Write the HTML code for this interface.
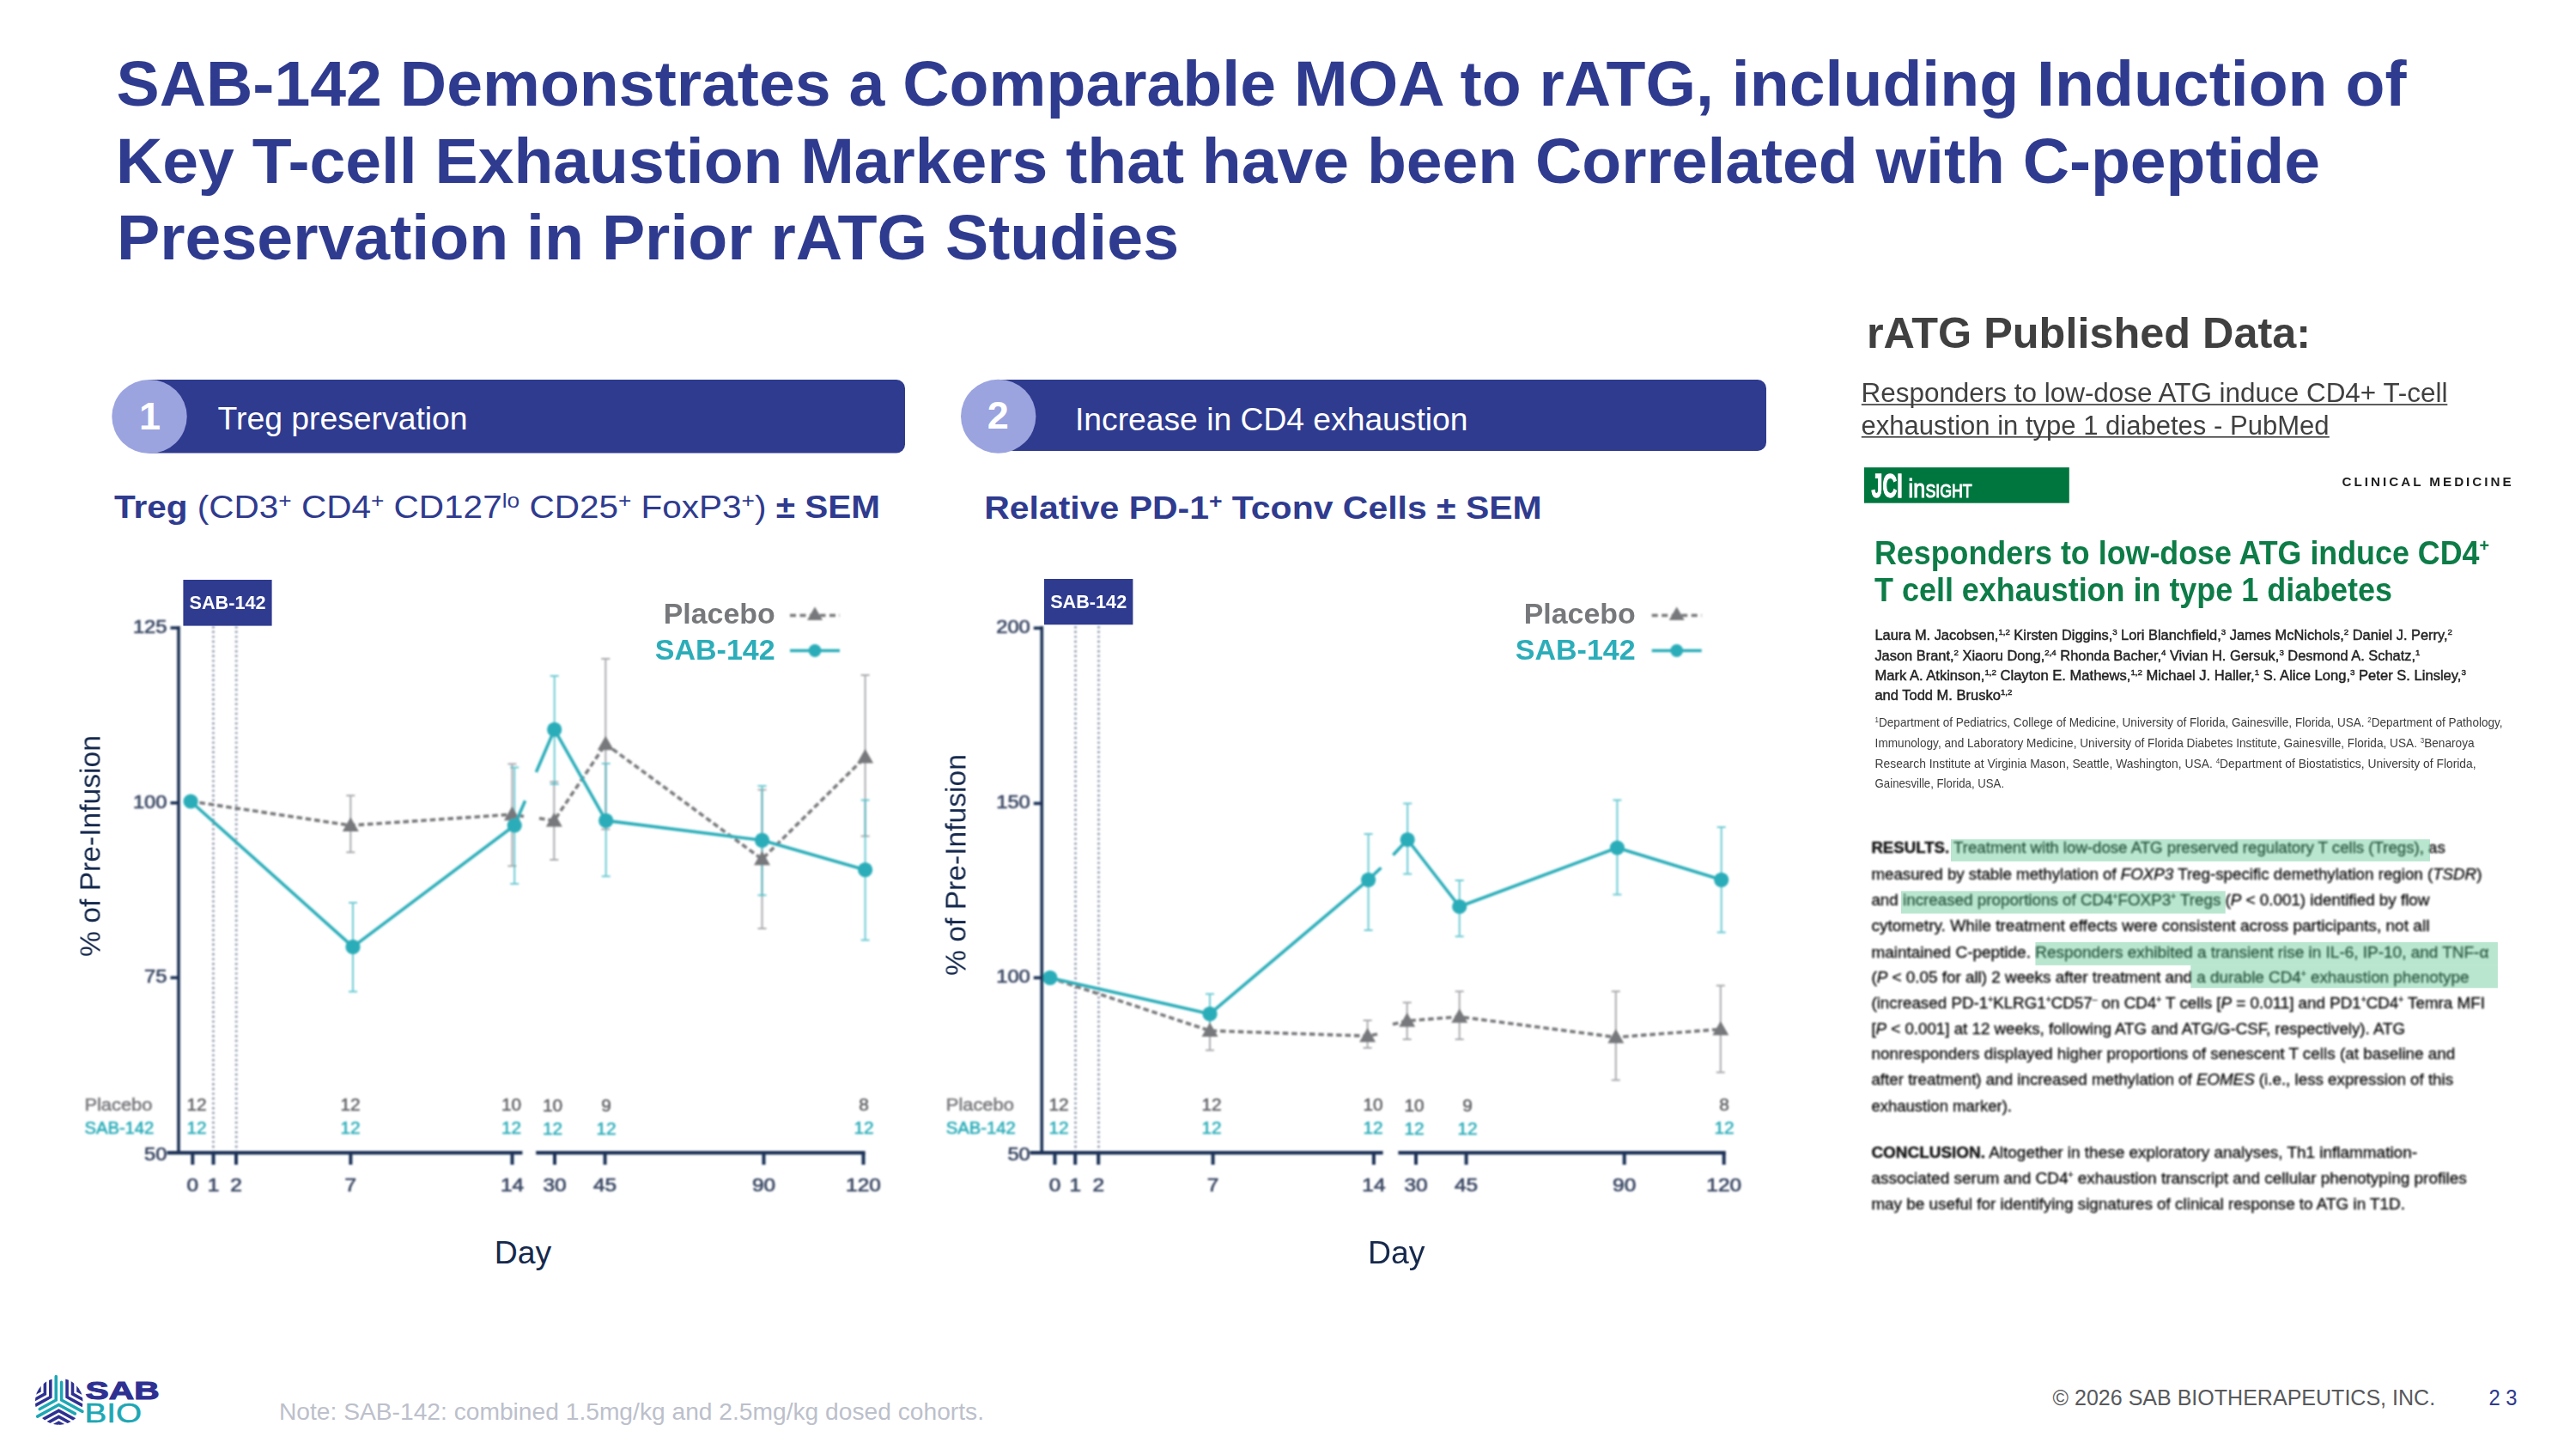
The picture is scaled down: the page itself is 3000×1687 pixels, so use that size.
<!DOCTYPE html>
<html lang="en"><head><meta charset="utf-8"><title>SAB-142 Demonstrates a Comparable MOA to rATG</title>
<style>
html,body{margin:0;padding:0;background:#fff;}
body{width:3000px;height:1687px;overflow:hidden;}
svg{display:block;font-family:"Liberation Sans",Arial,Helvetica,sans-serif;}
</style></head><body>
<svg width="3000" height="1687" viewBox="0 0 3000 1687">
<text x="135.5" y="123.2" font-size="75" fill="#2f3b8f" font-weight="700" textLength="2667" lengthAdjust="spacingAndGlyphs">SAB-142 Demonstrates a Comparable MOA to rATG, including Induction of</text>
<text x="135" y="212.5" font-size="75" fill="#2f3b8f" font-weight="700" textLength="2567" lengthAdjust="spacingAndGlyphs">Key T-cell Exhaustion Markers that have been Correlated with C-peptide</text>
<text x="136" y="301.6" font-size="75" fill="#2f3b8f" font-weight="700" textLength="1237" lengthAdjust="spacingAndGlyphs">Preservation in Prior rATG Studies</text>
<path d="M173 442 H1044 a10 10 0 0 1 10 10 V517.5 a10 10 0 0 1 -10 10 H173 Z" fill="#2f3b8f"/>
<ellipse cx="174" cy="485" rx="43.7" ry="43" fill="#9ba4df"/>
<text x="174.5" y="499.7" font-size="45" fill="#fff" font-weight="700" text-anchor="middle">1</text>
<text x="253.6" y="499.8" font-size="37" fill="#fff" textLength="291" lengthAdjust="spacingAndGlyphs">Treg preservation</text>
<path d="M1162 442 H2047 a10 10 0 0 1 10 10 V515 a10 10 0 0 1 -10 10 H1162 Z" fill="#2f3b8f"/>
<ellipse cx="1162.7" cy="484.7" rx="43.7" ry="43" fill="#9ba4df"/>
<text x="1162.3" y="499.2" font-size="45" fill="#fff" font-weight="700" text-anchor="middle">2</text>
<text x="1252" y="500.6" font-size="37" fill="#fff" textLength="457.5" lengthAdjust="spacingAndGlyphs">Increase in CD4 exhaustion</text>
<text x="133" y="603.2" font-size="37" fill="#2f3b8f" textLength="892" lengthAdjust="spacingAndGlyphs"><tspan font-weight="700">Treg</tspan> (CD3<tspan dy="-12" font-size="24">+</tspan><tspan dy="12"> CD4</tspan><tspan dy="-12" font-size="24">+</tspan><tspan dy="12"> CD127</tspan><tspan dy="-12" font-size="24">lo</tspan><tspan dy="12"> CD25</tspan><tspan dy="-12" font-size="24">+</tspan><tspan dy="12">  FoxP3</tspan><tspan dy="-12" font-size="24">+</tspan><tspan dy="12">) </tspan><tspan font-weight="700">± SEM</tspan></text>
<text x="1146.2" y="603.8" font-size="37" fill="#2f3b8f" font-weight="700" textLength="649.5" lengthAdjust="spacingAndGlyphs">Relative PD-1<tspan dy="-12" font-size="24">+</tspan><tspan dy="12"> Tconv Cells ± SEM</tspan></text>
<defs><filter id="soft" filterUnits="userSpaceOnUse" x="0" y="0" width="3000" height="1687"><feGaussianBlur stdDeviation="1"/></filter><filter id="soft2" filterUnits="userSpaceOnUse" x="0" y="0" width="3000" height="1687"><feGaussianBlur stdDeviation="0.6"/></filter></defs>
<g filter="url(#soft)">
<path d="M248.4 729V1340" stroke="#7f88a0" stroke-width="2.8" stroke-dasharray="2.4 3.2" fill="none" opacity="0.85"/>
<path d="M275.2 729V1340" stroke="#7f88a0" stroke-width="2.8" stroke-dasharray="2.4 3.2" fill="none" opacity="0.85"/>
<path d="M408.3 926.2V992.3M403.3 926.2h10M403.3 992.3h10" stroke="#8f9094" stroke-width="2" fill="none" opacity="0.75"/>
<path d="M596.4 889.4V1008.3M591.4 889.4h10M591.4 1008.3h10" stroke="#8f9094" stroke-width="2" fill="none" opacity="0.75"/>
<path d="M645.3 910.2V1001M640.3 910.2h10M640.3 1001h10" stroke="#8f9094" stroke-width="2" fill="none" opacity="0.75"/>
<path d="M705.3 766.9V965.4M700.3 766.9h10M700.3 965.4h10" stroke="#8f9094" stroke-width="2" fill="none" opacity="0.75"/>
<path d="M887.5 919.4V1081.1M882.5 919.4h10M882.5 1081.1h10" stroke="#8f9094" stroke-width="2" fill="none" opacity="0.75"/>
<path d="M1007.6 786.1V973.4M1002.6 786.1h10M1002.6 973.4h10" stroke="#8f9094" stroke-width="2" fill="none" opacity="0.75"/>
<path d="M411 1051.1V1154.4M406 1051.1h10M406 1154.4h10" stroke="#3fb9c4" stroke-width="2" fill="none" opacity="0.75"/>
<path d="M599.2 893.4V1029.1M594.2 893.4h10M594.2 1029.1h10" stroke="#3fb9c4" stroke-width="2" fill="none" opacity="0.75"/>
<path d="M645.7 786.9V913M640.7 786.9h10M640.7 913h10" stroke="#3fb9c4" stroke-width="2" fill="none" opacity="0.75"/>
<path d="M705.7 889V1020.3M700.7 889h10M700.7 1020.3h10" stroke="#3fb9c4" stroke-width="2" fill="none" opacity="0.75"/>
<path d="M887.5 915V1042.3M882.5 915h10M882.5 1042.3h10" stroke="#3fb9c4" stroke-width="2" fill="none" opacity="0.75"/>
<path d="M1007.6 931.4V1094.4M1002.6 931.4h10M1002.6 1094.4h10" stroke="#3fb9c4" stroke-width="2" fill="none" opacity="0.75"/>
<polyline points="222.1,933 408.3,961 596.4,948.2 610,950.5" fill="none" stroke="#77787b" stroke-width="3.6" stroke-dasharray="6.6 3.8"/>
<polyline points="628,952.8 645.3,955.4 705.3,866.2 887.5,1000.3 1007.6,881.4" fill="none" stroke="#77787b" stroke-width="3.6" stroke-dasharray="6.6 3.8"/>
<path d="M408.3 951.5L417.8 968H398.8Z" fill="#77787b"/>
<path d="M596.4 938.7L605.9 955.2H586.9Z" fill="#77787b"/>
<path d="M645.3 945.9L654.8 962.4H635.8Z" fill="#77787b"/>
<path d="M705.3 856.7L714.8 873.2H695.8Z" fill="#77787b"/>
<path d="M887.5 990.8L897.0 1007.3H878.0Z" fill="#77787b"/>
<path d="M1007.6 871.9L1017.1 888.4H998.1Z" fill="#77787b"/>
<polyline points="222.1,933 411,1102.4 599.2,961 611.6,932.2" fill="none" stroke="#2cadb9" stroke-width="3.6" stroke-linejoin="round"/>
<polyline points="624.4,899 645.7,849.4 705.7,955.4 887.5,978.3 1007.6,1012.7" fill="none" stroke="#2cadb9" stroke-width="3.6" stroke-linejoin="round"/>
<circle cx="222.1" cy="933" r="8.6" fill="#2cadb9"/>
<circle cx="411" cy="1102.4" r="8.6" fill="#2cadb9"/>
<circle cx="599.2" cy="961" r="8.6" fill="#2cadb9"/>
<circle cx="645.7" cy="849.4" r="8.6" fill="#2cadb9"/>
<circle cx="705.7" cy="955.4" r="8.6" fill="#2cadb9"/>
<circle cx="887.5" cy="978.3" r="8.6" fill="#2cadb9"/>
<circle cx="1007.6" cy="1012.7" r="8.6" fill="#2cadb9"/>
<path d="M208 729V1343.5" stroke="#1d3057" stroke-width="3.6" fill="none"/>
<path d="M194.5 1342.1H608.4M624.2 1342.1H1007.5" stroke="#1d3057" stroke-width="4.4" fill="none"/>
<path d="M198.5 731H208" stroke="#1d3057" stroke-width="3.6"/>
<text x="194.5" y="737" font-size="22.3" fill="#3a4763" text-anchor="end" textLength="39.6" lengthAdjust="spacingAndGlyphs" stroke="#3a4763" stroke-width="0.7">125</text>
<path d="M198.5 934.8H208" stroke="#1d3057" stroke-width="3.6"/>
<text x="194.5" y="940.8" font-size="22.3" fill="#3a4763" text-anchor="end" textLength="39.6" lengthAdjust="spacingAndGlyphs" stroke="#3a4763" stroke-width="0.7">100</text>
<path d="M198.5 1138.3H208" stroke="#1d3057" stroke-width="3.6"/>
<text x="194.5" y="1144.3" font-size="22.3" fill="#3a4763" text-anchor="end" textLength="26.4" lengthAdjust="spacingAndGlyphs" stroke="#3a4763" stroke-width="0.7">75</text>
<text x="194.5" y="1350.6" font-size="22.3" fill="#3a4763" text-anchor="end" textLength="26.4" lengthAdjust="spacingAndGlyphs" stroke="#3a4763" stroke-width="0.7">50</text>
<path d="M224.3 1341.5V1356" stroke="#1d3057" stroke-width="4"/>
<text x="224.3" y="1386.5" font-size="22.2" fill="#3a4763" text-anchor="middle" textLength="13.6" lengthAdjust="spacingAndGlyphs" stroke="#3a4763" stroke-width="0.7">0</text>
<path d="M248.5 1341.5V1356" stroke="#1d3057" stroke-width="4"/>
<text x="248.5" y="1386.5" font-size="22.2" fill="#3a4763" text-anchor="middle" textLength="13.6" lengthAdjust="spacingAndGlyphs" stroke="#3a4763" stroke-width="0.7">1</text>
<path d="M275 1341.5V1356" stroke="#1d3057" stroke-width="4"/>
<text x="275" y="1386.5" font-size="22.2" fill="#3a4763" text-anchor="middle" textLength="13.6" lengthAdjust="spacingAndGlyphs" stroke="#3a4763" stroke-width="0.7">2</text>
<path d="M408.4 1341.5V1356" stroke="#1d3057" stroke-width="4"/>
<text x="408.4" y="1386.5" font-size="22.2" fill="#3a4763" text-anchor="middle" textLength="13.6" lengthAdjust="spacingAndGlyphs" stroke="#3a4763" stroke-width="0.7">7</text>
<path d="M596.5 1341.5V1356" stroke="#1d3057" stroke-width="4"/>
<text x="596.5" y="1386.5" font-size="22.2" fill="#3a4763" text-anchor="middle" textLength="27.2" lengthAdjust="spacingAndGlyphs" stroke="#3a4763" stroke-width="0.7">14</text>
<path d="M646 1341.5V1356" stroke="#1d3057" stroke-width="4"/>
<text x="646" y="1386.5" font-size="22.2" fill="#3a4763" text-anchor="middle" textLength="27.2" lengthAdjust="spacingAndGlyphs" stroke="#3a4763" stroke-width="0.7">30</text>
<path d="M704.6 1341.5V1356" stroke="#1d3057" stroke-width="4"/>
<text x="704.6" y="1386.5" font-size="22.2" fill="#3a4763" text-anchor="middle" textLength="27.2" lengthAdjust="spacingAndGlyphs" stroke="#3a4763" stroke-width="0.7">45</text>
<path d="M889.5 1341.5V1356" stroke="#1d3057" stroke-width="4"/>
<text x="889.5" y="1386.5" font-size="22.2" fill="#3a4763" text-anchor="middle" textLength="27.2" lengthAdjust="spacingAndGlyphs" stroke="#3a4763" stroke-width="0.7">90</text>
<path d="M1005.5 1341.5V1356" stroke="#1d3057" stroke-width="4"/>
<text x="1005.5" y="1386.5" font-size="22.2" fill="#3a4763" text-anchor="middle" textLength="40.8" lengthAdjust="spacingAndGlyphs" stroke="#3a4763" stroke-width="0.7">120</text>
<text x="98.4" y="1292.5" font-size="19.5" fill="#7b7c80" textLength="79" lengthAdjust="spacingAndGlyphs" stroke="#7b7c80" stroke-width="0.6">Placebo</text>
<text x="98.4" y="1319.8" font-size="19.5" fill="#2cadb9" textLength="81" lengthAdjust="spacingAndGlyphs" stroke="#2cadb9" stroke-width="0.6">SAB-142</text>
<text x="229" y="1292.5" font-size="19.5" fill="#626367" text-anchor="middle" textLength="23.2" lengthAdjust="spacingAndGlyphs" stroke="#626367" stroke-width="0.5">12</text>
<text x="229" y="1319.8" font-size="19.5" fill="#2cadb9" text-anchor="middle" textLength="23.2" lengthAdjust="spacingAndGlyphs" stroke="#2cadb9" stroke-width="0.5">12</text>
<text x="408" y="1292.5" font-size="19.5" fill="#626367" text-anchor="middle" textLength="23.2" lengthAdjust="spacingAndGlyphs" stroke="#626367" stroke-width="0.5">12</text>
<text x="408" y="1319.8" font-size="19.5" fill="#2cadb9" text-anchor="middle" textLength="23.2" lengthAdjust="spacingAndGlyphs" stroke="#2cadb9" stroke-width="0.5">12</text>
<text x="595.5" y="1292.5" font-size="19.5" fill="#626367" text-anchor="middle" textLength="23.2" lengthAdjust="spacingAndGlyphs" stroke="#626367" stroke-width="0.5">10</text>
<text x="595.5" y="1319.8" font-size="19.5" fill="#2cadb9" text-anchor="middle" textLength="23.2" lengthAdjust="spacingAndGlyphs" stroke="#2cadb9" stroke-width="0.5">12</text>
<text x="643.5" y="1293.5" font-size="19.5" fill="#626367" text-anchor="middle" textLength="23.2" lengthAdjust="spacingAndGlyphs" stroke="#626367" stroke-width="0.5">10</text>
<text x="643.5" y="1320.8" font-size="19.5" fill="#2cadb9" text-anchor="middle" textLength="23.2" lengthAdjust="spacingAndGlyphs" stroke="#2cadb9" stroke-width="0.5">12</text>
<text x="706" y="1293.5" font-size="19.5" fill="#626367" text-anchor="middle" textLength="11.6" lengthAdjust="spacingAndGlyphs" stroke="#626367" stroke-width="0.5">9</text>
<text x="706" y="1320.8" font-size="19.5" fill="#2cadb9" text-anchor="middle" textLength="23.2" lengthAdjust="spacingAndGlyphs" stroke="#2cadb9" stroke-width="0.5">12</text>
<text x="1006" y="1292.5" font-size="19.5" fill="#626367" text-anchor="middle" textLength="11.6" lengthAdjust="spacingAndGlyphs" stroke="#626367" stroke-width="0.5">8</text>
<text x="1006" y="1319.8" font-size="19.5" fill="#2cadb9" text-anchor="middle" textLength="23.2" lengthAdjust="spacingAndGlyphs" stroke="#2cadb9" stroke-width="0.5">12</text>
</g>
<rect x="213.4" y="675" width="103.2" height="53.6" fill="#2f3b8f" />
<text x="265.0" y="709.4" font-size="21.5" fill="#fff" font-weight="700" text-anchor="middle" textLength="89" lengthAdjust="spacingAndGlyphs">SAB-142</text>
<text x="902.7" y="725.8" font-size="33.6" fill="#77787b" font-weight="700" text-anchor="end" textLength="130" lengthAdjust="spacingAndGlyphs">Placebo</text>
<text x="902.7" y="768.2" font-size="33.6" fill="#2cadb9" font-weight="700" text-anchor="end" textLength="140" lengthAdjust="spacingAndGlyphs">SAB-142</text>
<g filter="url(#soft)">
<path d="M920 716.5H978" stroke="#77787b" stroke-width="3.4" stroke-dasharray="7 4.5"/>
<path d="M949 706.5L958 722H940Z" fill="#77787b"/>
<path d="M920 757.5H978" stroke="#2cadb9" stroke-width="3.6"/>
<circle cx="949" cy="757.5" r="7.4" fill="#2cadb9"/>
</g>
<text x="0" y="0" font-size="33.6" fill="#16294d" text-anchor="middle" textLength="258" lengthAdjust="spacingAndGlyphs" transform="translate(116.5 985) rotate(-90)">% of Pre-Infusion</text>
<text x="575.7" y="1471" font-size="36.3" fill="#16294d" textLength="66.5" lengthAdjust="spacingAndGlyphs">Day</text>
<g filter="url(#soft)">
<path d="M1252.5 729V1340" stroke="#7f88a0" stroke-width="2.8" stroke-dasharray="2.4 3.2" fill="none" opacity="0.85"/>
<path d="M1279.5 729V1340" stroke="#7f88a0" stroke-width="2.8" stroke-dasharray="2.4 3.2" fill="none" opacity="0.85"/>
<path d="M1409 1177V1222.7M1404 1177h10M1404 1222.7h10" stroke="#8f9094" stroke-width="2" fill="none" opacity="0.75"/>
<path d="M1592.6 1187.9V1220M1587.6 1187.9h10M1587.6 1220h10" stroke="#8f9094" stroke-width="2" fill="none" opacity="0.75"/>
<path d="M1638.7 1167.3V1210M1633.7 1167.3h10M1633.7 1210h10" stroke="#8f9094" stroke-width="2" fill="none" opacity="0.75"/>
<path d="M1699.7 1154.2V1210M1694.7 1154.2h10M1694.7 1210h10" stroke="#8f9094" stroke-width="2" fill="none" opacity="0.75"/>
<path d="M1881.8 1154.2V1257.6M1876.8 1154.2h10M1876.8 1257.6h10" stroke="#8f9094" stroke-width="2" fill="none" opacity="0.75"/>
<path d="M2003.8 1147.5V1248.5M1998.8 1147.5h10M1998.8 1248.5h10" stroke="#8f9094" stroke-width="2" fill="none" opacity="0.75"/>
<path d="M1409 1157.2V1203M1404 1157.2h10M1404 1203h10" stroke="#3fb9c4" stroke-width="2" fill="none" opacity="0.75"/>
<path d="M1593.6 971V1083.1M1588.6 971h10M1588.6 1083.1h10" stroke="#3fb9c4" stroke-width="2" fill="none" opacity="0.75"/>
<path d="M1639.2 935.4V1017.5M1634.2 935.4h10M1634.2 1017.5h10" stroke="#3fb9c4" stroke-width="2" fill="none" opacity="0.75"/>
<path d="M1699.7 1025.1V1090.3M1694.7 1025.1h10M1694.7 1090.3h10" stroke="#3fb9c4" stroke-width="2" fill="none" opacity="0.75"/>
<path d="M1883.4 931.4V1041.5M1878.4 931.4h10M1878.4 1041.5h10" stroke="#3fb9c4" stroke-width="2" fill="none" opacity="0.75"/>
<path d="M2004.7 963V1085.5M1999.7 963h10M1999.7 1085.5h10" stroke="#3fb9c4" stroke-width="2" fill="none" opacity="0.75"/>
<polyline points="1222.9,1138.4 1409,1200 1592.6,1206.2 1604,1204" fill="none" stroke="#77787b" stroke-width="3.6" stroke-dasharray="6.6 3.8"/>
<polyline points="1622,1192.5 1638.7,1188.5 1699.7,1183.8 1881.8,1207.6 2003.8,1198.3" fill="none" stroke="#77787b" stroke-width="3.6" stroke-dasharray="6.6 3.8"/>
<path d="M1409 1190.5L1418.5 1207H1399.5Z" fill="#77787b"/>
<path d="M1592.6 1196.7L1602.1 1213.2H1583.1Z" fill="#77787b"/>
<path d="M1638.7 1179.0L1648.2 1195.5H1629.2Z" fill="#77787b"/>
<path d="M1699.7 1174.3L1709.2 1190.8H1690.2Z" fill="#77787b"/>
<path d="M1881.8 1198.1L1891.3 1214.6H1872.3Z" fill="#77787b"/>
<path d="M2003.8 1188.8L2013.3 1205.3H1994.3Z" fill="#77787b"/>
<polyline points="1222.9,1138.4 1409,1180.4 1593.6,1024.3 1608.4,1010.3" fill="none" stroke="#2cadb9" stroke-width="3.6" stroke-linejoin="round"/>
<polyline points="1622.4,995.5 1639.2,977.5 1699.7,1055.5 1883.4,987 2004.7,1024.3" fill="none" stroke="#2cadb9" stroke-width="3.6" stroke-linejoin="round"/>
<circle cx="1222.9" cy="1138.4" r="8.6" fill="#2cadb9"/>
<circle cx="1409" cy="1180.4" r="8.6" fill="#2cadb9"/>
<circle cx="1593.6" cy="1024.3" r="8.6" fill="#2cadb9"/>
<circle cx="1639.2" cy="977.5" r="8.6" fill="#2cadb9"/>
<circle cx="1699.7" cy="1055.5" r="8.6" fill="#2cadb9"/>
<circle cx="1883.4" cy="987" r="8.6" fill="#2cadb9"/>
<circle cx="2004.7" cy="1024.3" r="8.6" fill="#2cadb9"/>
<path d="M1213.3 729V1343.5" stroke="#1d3057" stroke-width="3.6" fill="none"/>
<path d="M1199.5 1342.1H1610.6M1628.4 1342.1H2009.7" stroke="#1d3057" stroke-width="4.4" fill="none"/>
<path d="M1203.8 731.3H1213.3" stroke="#1d3057" stroke-width="3.6"/>
<text x="1199.8" y="737.3" font-size="22.3" fill="#3a4763" text-anchor="end" textLength="39.6" lengthAdjust="spacingAndGlyphs" stroke="#3a4763" stroke-width="0.7">200</text>
<path d="M1203.8 935.4H1213.3" stroke="#1d3057" stroke-width="3.6"/>
<text x="1199.8" y="941.4" font-size="22.3" fill="#3a4763" text-anchor="end" textLength="39.6" lengthAdjust="spacingAndGlyphs" stroke="#3a4763" stroke-width="0.7">150</text>
<path d="M1203.8 1138.4H1213.3" stroke="#1d3057" stroke-width="3.6"/>
<text x="1199.8" y="1144.4" font-size="22.3" fill="#3a4763" text-anchor="end" textLength="39.6" lengthAdjust="spacingAndGlyphs" stroke="#3a4763" stroke-width="0.7">100</text>
<text x="1199.8" y="1350.6" font-size="22.3" fill="#3a4763" text-anchor="end" textLength="26.4" lengthAdjust="spacingAndGlyphs" stroke="#3a4763" stroke-width="0.7">50</text>
<path d="M1228.5 1341.5V1356" stroke="#1d3057" stroke-width="4"/>
<text x="1228.5" y="1386.5" font-size="22.2" fill="#3a4763" text-anchor="middle" textLength="13.6" lengthAdjust="spacingAndGlyphs" stroke="#3a4763" stroke-width="0.7">0</text>
<path d="M1252.2 1341.5V1356" stroke="#1d3057" stroke-width="4"/>
<text x="1252.2" y="1386.5" font-size="22.2" fill="#3a4763" text-anchor="middle" textLength="13.6" lengthAdjust="spacingAndGlyphs" stroke="#3a4763" stroke-width="0.7">1</text>
<path d="M1279.2 1341.5V1356" stroke="#1d3057" stroke-width="4"/>
<text x="1279.2" y="1386.5" font-size="22.2" fill="#3a4763" text-anchor="middle" textLength="13.6" lengthAdjust="spacingAndGlyphs" stroke="#3a4763" stroke-width="0.7">2</text>
<path d="M1412.6 1341.5V1356" stroke="#1d3057" stroke-width="4"/>
<text x="1412.6" y="1386.5" font-size="22.2" fill="#3a4763" text-anchor="middle" textLength="13.6" lengthAdjust="spacingAndGlyphs" stroke="#3a4763" stroke-width="0.7">7</text>
<path d="M1599.9 1341.5V1356" stroke="#1d3057" stroke-width="4"/>
<text x="1599.9" y="1386.5" font-size="22.2" fill="#3a4763" text-anchor="middle" textLength="27.2" lengthAdjust="spacingAndGlyphs" stroke="#3a4763" stroke-width="0.7">14</text>
<path d="M1649 1341.5V1356" stroke="#1d3057" stroke-width="4"/>
<text x="1649" y="1386.5" font-size="22.2" fill="#3a4763" text-anchor="middle" textLength="27.2" lengthAdjust="spacingAndGlyphs" stroke="#3a4763" stroke-width="0.7">30</text>
<path d="M1707.6 1341.5V1356" stroke="#1d3057" stroke-width="4"/>
<text x="1707.6" y="1386.5" font-size="22.2" fill="#3a4763" text-anchor="middle" textLength="27.2" lengthAdjust="spacingAndGlyphs" stroke="#3a4763" stroke-width="0.7">45</text>
<path d="M1891.7 1341.5V1356" stroke="#1d3057" stroke-width="4"/>
<text x="1891.7" y="1386.5" font-size="22.2" fill="#3a4763" text-anchor="middle" textLength="27.2" lengthAdjust="spacingAndGlyphs" stroke="#3a4763" stroke-width="0.7">90</text>
<path d="M2007.7 1341.5V1356" stroke="#1d3057" stroke-width="4"/>
<text x="2007.7" y="1386.5" font-size="22.2" fill="#3a4763" text-anchor="middle" textLength="40.8" lengthAdjust="spacingAndGlyphs" stroke="#3a4763" stroke-width="0.7">120</text>
<text x="1101.8" y="1292.5" font-size="19.5" fill="#7b7c80" textLength="79" lengthAdjust="spacingAndGlyphs" stroke="#7b7c80" stroke-width="0.6">Placebo</text>
<text x="1101.8" y="1319.8" font-size="19.5" fill="#2cadb9" textLength="81" lengthAdjust="spacingAndGlyphs" stroke="#2cadb9" stroke-width="0.6">SAB-142</text>
<text x="1233" y="1292.5" font-size="19.5" fill="#626367" text-anchor="middle" textLength="23.2" lengthAdjust="spacingAndGlyphs" stroke="#626367" stroke-width="0.5">12</text>
<text x="1233" y="1319.8" font-size="19.5" fill="#2cadb9" text-anchor="middle" textLength="23.2" lengthAdjust="spacingAndGlyphs" stroke="#2cadb9" stroke-width="0.5">12</text>
<text x="1411" y="1292.5" font-size="19.5" fill="#626367" text-anchor="middle" textLength="23.2" lengthAdjust="spacingAndGlyphs" stroke="#626367" stroke-width="0.5">12</text>
<text x="1411" y="1319.8" font-size="19.5" fill="#2cadb9" text-anchor="middle" textLength="23.2" lengthAdjust="spacingAndGlyphs" stroke="#2cadb9" stroke-width="0.5">12</text>
<text x="1599" y="1292.5" font-size="19.5" fill="#626367" text-anchor="middle" textLength="23.2" lengthAdjust="spacingAndGlyphs" stroke="#626367" stroke-width="0.5">10</text>
<text x="1599" y="1319.8" font-size="19.5" fill="#2cadb9" text-anchor="middle" textLength="23.2" lengthAdjust="spacingAndGlyphs" stroke="#2cadb9" stroke-width="0.5">12</text>
<text x="1647" y="1293.5" font-size="19.5" fill="#626367" text-anchor="middle" textLength="23.2" lengthAdjust="spacingAndGlyphs" stroke="#626367" stroke-width="0.5">10</text>
<text x="1647" y="1320.8" font-size="19.5" fill="#2cadb9" text-anchor="middle" textLength="23.2" lengthAdjust="spacingAndGlyphs" stroke="#2cadb9" stroke-width="0.5">12</text>
<text x="1709" y="1293.5" font-size="19.5" fill="#626367" text-anchor="middle" textLength="11.6" lengthAdjust="spacingAndGlyphs" stroke="#626367" stroke-width="0.5">9</text>
<text x="1709" y="1320.8" font-size="19.5" fill="#2cadb9" text-anchor="middle" textLength="23.2" lengthAdjust="spacingAndGlyphs" stroke="#2cadb9" stroke-width="0.5">12</text>
<text x="2008" y="1292.5" font-size="19.5" fill="#626367" text-anchor="middle" textLength="11.6" lengthAdjust="spacingAndGlyphs" stroke="#626367" stroke-width="0.5">8</text>
<text x="2008" y="1319.8" font-size="19.5" fill="#2cadb9" text-anchor="middle" textLength="23.2" lengthAdjust="spacingAndGlyphs" stroke="#2cadb9" stroke-width="0.5">12</text>
</g>
<rect x="1216" y="674" width="103.4" height="53.3" fill="#2f3b8f" />
<text x="1267.7" y="708.25" font-size="21.5" fill="#fff" font-weight="700" text-anchor="middle" textLength="89" lengthAdjust="spacingAndGlyphs">SAB-142</text>
<text x="1904.7" y="725.8" font-size="33.6" fill="#77787b" font-weight="700" text-anchor="end" textLength="130" lengthAdjust="spacingAndGlyphs">Placebo</text>
<text x="1904.7" y="768.2" font-size="33.6" fill="#2cadb9" font-weight="700" text-anchor="end" textLength="140" lengthAdjust="spacingAndGlyphs">SAB-142</text>
<g filter="url(#soft)">
<path d="M1923.7 716.5H1981.7" stroke="#77787b" stroke-width="3.4" stroke-dasharray="7 4.5"/>
<path d="M1952.7 706.5L1961.7 722H1943.7Z" fill="#77787b"/>
<path d="M1923.7 757.5H1981.7" stroke="#2cadb9" stroke-width="3.6"/>
<circle cx="1952.7" cy="757.5" r="7.4" fill="#2cadb9"/>
</g>
<text x="0" y="0" font-size="33.6" fill="#16294d" text-anchor="middle" textLength="258" lengthAdjust="spacingAndGlyphs" transform="translate(1124.5 1007) rotate(-90)">% of Pre-Infusion</text>
<text x="1592.9" y="1471" font-size="36.3" fill="#16294d" textLength="66.5" lengthAdjust="spacingAndGlyphs">Day</text>
<text x="2174" y="405.4" font-size="49.5" fill="#404040" font-weight="700" textLength="517" lengthAdjust="spacingAndGlyphs">rATG Published Data:</text>
<text x="2167.5" y="467.8" font-size="31" fill="#404040" textLength="683" lengthAdjust="spacingAndGlyphs">Responders to low-dose ATG induce CD4+ T-cell</text>
<text x="2167.5" y="505.5" font-size="31" fill="#404040" textLength="545" lengthAdjust="spacingAndGlyphs">exhaustion in type 1 diabetes - PubMed</text>
<rect x="2167.8" y="470.2" width="682.5" height="1.7" fill="#404040" />
<rect x="2167.8" y="507.9" width="545" height="1.7" fill="#404040" />
<defs><filter id="soft3" filterUnits="userSpaceOnUse" x="0" y="0" width="3000" height="1687"><feGaussianBlur stdDeviation="0.45"/></filter></defs>
<rect x="2171" y="544.2" width="238.8" height="41.5" fill="#00763f" />
<g filter="url(#soft3)">
<text x="2179.6" y="578.9" font-size="38" fill="#fff" font-weight="700" textLength="36" lengthAdjust="spacingAndGlyphs" stroke="#fff" stroke-width="1.3">JCI</text>
<text x="2222.6" y="578.9" font-size="29" fill="#fff" stroke="#fff" stroke-width="1.1"><tspan font-size="29" textLength="19.5" lengthAdjust="spacingAndGlyphs">in</tspan></text>
<text x="2242.4" y="578.9" font-size="22.6" fill="#fff" textLength="54.2" lengthAdjust="spacingAndGlyphs" stroke="#fff" stroke-width="1.1">SIGHT</text>
</g>
<text x="2727.6" y="566.4" font-size="15.2" fill="#1d1d1f" font-weight="700" textLength="197" lengthAdjust="spacing">CLINICAL MEDICINE</text>
<g filter="url(#soft3)">
<text x="2183" y="656.6" font-size="38" fill="#0b7b46" font-weight="700" textLength="716" lengthAdjust="spacingAndGlyphs">Responders to low-dose ATG induce CD4<tspan dy="-14.5" font-size="21">+</tspan></text>
<text x="2183" y="700.2" font-size="38" fill="#0b7b46" font-weight="700" textLength="603" lengthAdjust="spacingAndGlyphs">T cell exhaustion in type 1 diabetes</text>
<text x="2183.4" y="744.9" font-size="16.7" fill="#232323" textLength="672.5" lengthAdjust="spacingAndGlyphs" stroke="#232323" stroke-width="0.45">Laura M. Jacobsen,<tspan dy="-6" font-size="9.8">1,2</tspan><tspan dy="6"> Kirsten Diggins,</tspan><tspan dy="-6" font-size="9.8">3</tspan><tspan dy="6"> Lori Blanchfield,</tspan><tspan dy="-6" font-size="9.8">3</tspan><tspan dy="6"> James McNichols,</tspan><tspan dy="-6" font-size="9.8">2</tspan><tspan dy="6"> Daniel J. Perry,</tspan><tspan dy="-6" font-size="9.8">2</tspan></text>
<text x="2183.4" y="768.5" font-size="16.7" fill="#232323" textLength="635" lengthAdjust="spacingAndGlyphs" stroke="#232323" stroke-width="0.45">Jason Brant,<tspan dy="-6" font-size="9.8">2</tspan><tspan dy="6"> Xiaoru Dong,</tspan><tspan dy="-6" font-size="9.8">2,4</tspan><tspan dy="6"> Rhonda Bacher,</tspan><tspan dy="-6" font-size="9.8">4</tspan><tspan dy="6"> Vivian H. Gersuk,</tspan><tspan dy="-6" font-size="9.8">3</tspan><tspan dy="6"> Desmond A. Schatz,</tspan><tspan dy="-6" font-size="9.8">1</tspan></text>
<text x="2183.4" y="792" font-size="16.7" fill="#232323" textLength="688.5" lengthAdjust="spacingAndGlyphs" stroke="#232323" stroke-width="0.45">Mark A. Atkinson,<tspan dy="-6" font-size="9.8">1,2</tspan><tspan dy="6"> Clayton E. Mathews,</tspan><tspan dy="-6" font-size="9.8">1,2</tspan><tspan dy="6"> Michael J. Haller,</tspan><tspan dy="-6" font-size="9.8">1</tspan><tspan dy="6"> S. Alice Long,</tspan><tspan dy="-6" font-size="9.8">3</tspan><tspan dy="6"> Peter S. Linsley,</tspan><tspan dy="-6" font-size="9.8">3</tspan></text>
<text x="2183.4" y="815.4" font-size="16.7" fill="#232323" textLength="160" lengthAdjust="spacingAndGlyphs" stroke="#232323" stroke-width="0.45">and Todd M. Brusko<tspan dy="-6" font-size="9.8">1,2</tspan></text>
<text x="2183.6" y="845.9" font-size="14.6" fill="#3d3d3d" textLength="731" lengthAdjust="spacingAndGlyphs"><tspan dy="-5" font-size="8.5">1</tspan><tspan dy="5">Department of Pediatrics, College of Medicine, University of Florida, Gainesville, Florida, USA. </tspan><tspan dy="-5" font-size="8.5">2</tspan><tspan dy="5">Department of Pathology,</tspan></text>
<text x="2183.6" y="869.6" font-size="14.6" fill="#3d3d3d" textLength="698" lengthAdjust="spacingAndGlyphs">Immunology, and Laboratory Medicine, University of Florida Diabetes Institute, Gainesville, Florida, USA. <tspan dy="-5" font-size="8.5">3</tspan><tspan dy="5">Benaroya</tspan></text>
<text x="2183.6" y="893.6" font-size="14.6" fill="#3d3d3d" textLength="700" lengthAdjust="spacingAndGlyphs">Research Institute at Virginia Mason, Seattle, Washington, USA. <tspan dy="-5" font-size="8.5">4</tspan><tspan dy="5">Department of Biostatistics, University of Florida,</tspan></text>
<text x="2183.6" y="917" font-size="14.6" fill="#3d3d3d" textLength="150.5" lengthAdjust="spacingAndGlyphs">Gainesville, Florida, USA.</text>
</g>
<g filter="url(#soft)">
<text x="2179.4" y="993.4" font-size="18.7" fill="#141414" textLength="668.4" lengthAdjust="spacingAndGlyphs" stroke="#141414" stroke-width="0.4"><tspan font-weight="700">RESULTS.</tspan> Treatment with low-dose ATG preserved regulatory T cells (Tregs), as</text>
<text x="2179.4" y="1024.1" font-size="18.7" fill="#141414" textLength="711" lengthAdjust="spacingAndGlyphs" stroke="#141414" stroke-width="0.4">measured by stable methylation of <tspan font-style="italic">FOXP3</tspan> Treg-specific demethylation region (<tspan font-style="italic">TSDR</tspan>)</text>
<text x="2179.4" y="1053.5" font-size="18.7" fill="#141414" textLength="650" lengthAdjust="spacingAndGlyphs" stroke="#141414" stroke-width="0.4">and increased proportions of CD4<tspan dy="-7" font-size="10">+</tspan><tspan dy="7">FOXP3</tspan><tspan dy="-7" font-size="10">+</tspan><tspan dy="7"> Tregs (</tspan><tspan font-style="italic">P</tspan> &lt; 0.001) identified by flow</text>
<text x="2179.4" y="1084.2" font-size="18.7" fill="#141414" textLength="650" lengthAdjust="spacingAndGlyphs" stroke="#141414" stroke-width="0.4">cytometry. While treatment effects were consistent across participants, not all</text>
<text x="2179.4" y="1114.6" font-size="18.7" fill="#141414" textLength="719" lengthAdjust="spacingAndGlyphs" stroke="#141414" stroke-width="0.4">maintained C-peptide. Responders exhibited a transient rise in IL-6, IP-10, and TNF-α</text>
<text x="2179.4" y="1144.3" font-size="18.7" fill="#141414" textLength="696" lengthAdjust="spacingAndGlyphs" stroke="#141414" stroke-width="0.4">(<tspan font-style="italic">P</tspan> &lt; 0.05 for all) 2 weeks after treatment and a durable CD4<tspan dy="-7" font-size="10">+</tspan><tspan dy="7"> exhaustion phenotype</tspan></text>
<text x="2179.4" y="1174.3" font-size="18.7" fill="#141414" textLength="714.5" lengthAdjust="spacingAndGlyphs" stroke="#141414" stroke-width="0.4">(increased PD-1<tspan dy="-7" font-size="10">+</tspan><tspan dy="7">KLRG1</tspan><tspan dy="-7" font-size="10">+</tspan><tspan dy="7">CD57</tspan><tspan dy="-7" font-size="10">–</tspan><tspan dy="7"> on CD4</tspan><tspan dy="-7" font-size="10">+</tspan><tspan dy="7"> T cells [</tspan><tspan font-style="italic">P</tspan> = 0.011] and PD1<tspan dy="-7" font-size="10">+</tspan><tspan dy="7">CD4</tspan><tspan dy="-7" font-size="10">+</tspan><tspan dy="7"> Temra MFI</tspan></text>
<text x="2179.4" y="1204.4" font-size="18.7" fill="#141414" textLength="621.6" lengthAdjust="spacingAndGlyphs" stroke="#141414" stroke-width="0.4">[<tspan font-style="italic">P</tspan> &lt; 0.001] at 12 weeks, following ATG and ATG/G-CSF, respectively). ATG</text>
<text x="2179.4" y="1233.4" font-size="18.7" fill="#141414" textLength="680" lengthAdjust="spacingAndGlyphs" stroke="#141414" stroke-width="0.4">nonresponders displayed higher proportions of senescent T cells (at baseline and</text>
<text x="2179.4" y="1263.4" font-size="18.7" fill="#141414" textLength="677.7" lengthAdjust="spacingAndGlyphs" stroke="#141414" stroke-width="0.4">after treatment) and increased methylation of <tspan font-style="italic">EOMES</tspan> (i.e., less expression of this</text>
<text x="2179.4" y="1293.5" font-size="18.7" fill="#141414" textLength="163.6" lengthAdjust="spacingAndGlyphs" stroke="#141414" stroke-width="0.4">exhaustion marker).</text>
<text x="2179.4" y="1347.9" font-size="18.7" fill="#141414" textLength="635.6" lengthAdjust="spacingAndGlyphs" stroke="#141414" stroke-width="0.4"><tspan font-weight="700">CONCLUSION.</tspan> Altogether in these exploratory analyses, Th1 inflammation-</text>
<text x="2179.4" y="1377.6" font-size="18.7" fill="#141414" textLength="693.4" lengthAdjust="spacingAndGlyphs" stroke="#141414" stroke-width="0.4">associated serum and CD4<tspan dy="-7" font-size="10">+</tspan><tspan dy="7"> exhaustion transcript and cellular phenotyping profiles</tspan></text>
<text x="2179.4" y="1407.7" font-size="18.7" fill="#141414" textLength="621.6" lengthAdjust="spacingAndGlyphs" stroke="#141414" stroke-width="0.4">may be useful for identifying signatures of clinical response to ATG in T1D.</text>
</g>
<rect x="2272" y="977.2" width="558" height="25.6" fill="#58c38d" opacity="0.42"/>
<rect x="2214" y="1037.4" width="377.7" height="26.2" fill="#58c38d" opacity="0.42"/>
<rect x="2370.4" y="1096.9" width="538.5" height="26.9" fill="#58c38d" opacity="0.42"/>
<rect x="2551.3" y="1123.8" width="357.6" height="26.5" fill="#58c38d" opacity="0.42"/>
<defs><clipPath id="lc"><ellipse cx="627" cy="537" rx="359" ry="351"/></clipPath></defs>
<g transform="translate(20 1590) scale(0.07764)" fill="none" stroke-width="46" stroke-linejoin="miter">
<g clip-path="url(#lc)" stroke="#2e3192"><path d="M500 100V470L100 690M417 100V424L100 598M334 100V378L100 507"/><path d="M748 100V470L1148 690M831 100V424L1148 598M914 100V378L1148 507"/><path d="M224 895L624 675L1024 895M224 985L624 765L1024 985M224 1075L624 855L1024 1075"/></g>
<g stroke="#1ea7b4" stroke-linecap="round"><path d="M583 162V516L338 651M665 250V516L978 688M305 762L624 585L868 719"/></g>
</g>
<text x="99.6" y="1628.8" font-size="29.9" fill="#2e3192" font-weight="700" textLength="86" lengthAdjust="spacingAndGlyphs" stroke="#2e3192" stroke-width="1.1">SAB</text>
<text x="98.6" y="1656.3" font-size="30.8" fill="#1ea7b4" textLength="66.5" lengthAdjust="spacingAndGlyphs" stroke="#1ea7b4" stroke-width="0.5">BIO</text>
<text x="325" y="1653.2" font-size="28" fill="#bcc0cb" textLength="821" lengthAdjust="spacingAndGlyphs">Note: SAB-142: combined 1.5mg/kg and 2.5mg/kg dosed cohorts.</text>
<text x="2390.6" y="1635.7" font-size="25" fill="#58595b" textLength="445.5" lengthAdjust="spacingAndGlyphs">© 2026 SAB BIOTHERAPEUTICS, INC.</text>
<text x="2898.4" y="1635.7" font-size="25" fill="#2f3b8f" textLength="33" lengthAdjust="spacingAndGlyphs">2 3</text>
</svg>
</body></html>
